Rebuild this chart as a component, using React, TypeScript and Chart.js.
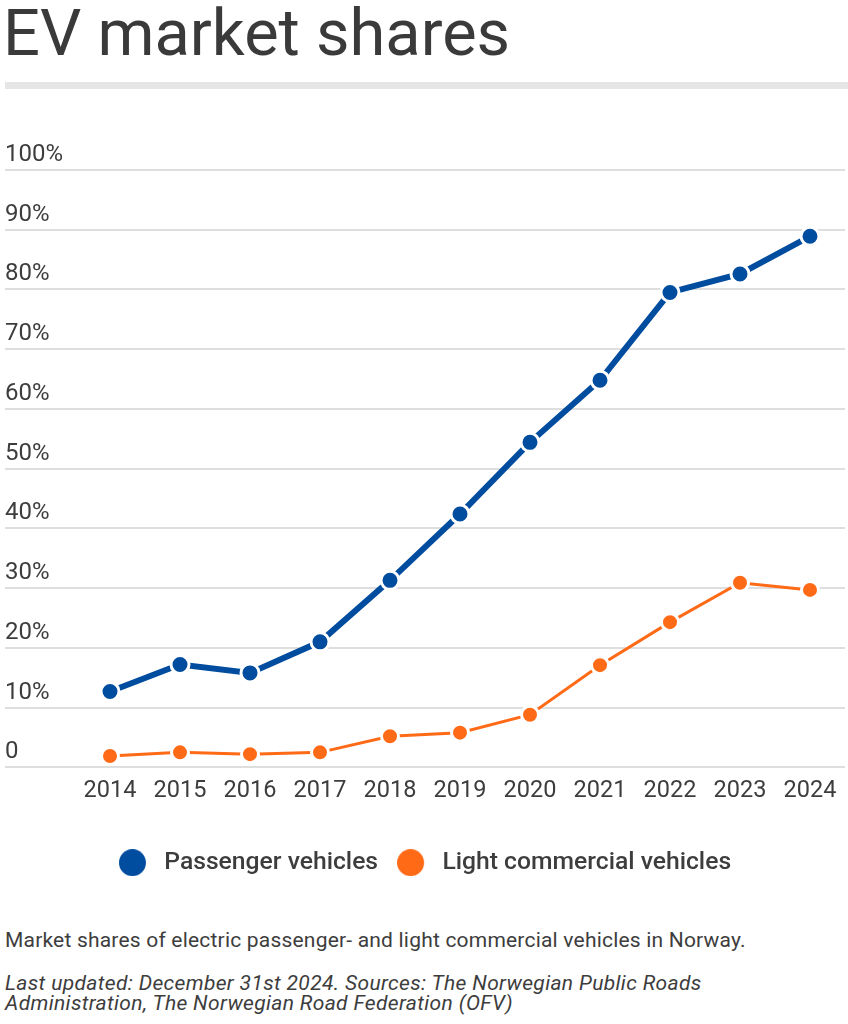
import React, { useEffect, useRef } from "react";
import { Chart, registerables } from "chart.js";

Chart.register(...registerables);

const years = ["2014", "2015", "2016", "2017", "2018", "2019", "2020", "2021", "2022", "2023", "2024"];
const passengerShares = [12.7, 17.2, 15.8, 21.0, 31.3, 42.4, 54.4, 64.8, 79.5, 82.6, 88.9];
const lightCommercialShares = [1.9, 2.5, 2.2, 2.5, 5.2, 5.8, 8.8, 17.1, 24.3, 30.9, 29.7];
const yTicks = [0, 10, 20, 30, 40, 50, 60, 70, 80, 90, 100];
const seriesNames = ["Passenger vehicles", "Light commercial vehicles"];

const BLUE = "#004c9f";
const ORANGE = "#ff6a17";
const TEXT = "#3d3d3d";
const FONT = "Roboto, 'Noto Sans', sans-serif";

function legendDot(color: string): HTMLCanvasElement {
  const c = document.createElement("canvas");
  c.width = 33;
  c.height = 27;
  const ctx = c.getContext("2d");
  if (ctx) {
    ctx.fillStyle = color;
    ctx.beginPath();
    ctx.arc(13.5, 13.5, 13.5, 0, Math.PI * 2);
    ctx.fill();
  }
  return c;
}

export default function App() {
  const canvasRef = useRef<HTMLCanvasElement | null>(null);

  useEffect(() => {
    if (!canvasRef.current) return;
    const dots = [legendDot(BLUE), legendDot(ORANGE)];
    const chart = new Chart(canvasRef.current, {
      type: "line",
      data: {
        labels: years,
        datasets: [
          {
            label: seriesNames[0],
            data: passengerShares,
            borderColor: BLUE,
            backgroundColor: BLUE,
            borderWidth: 6,
            pointRadius: 9,
            pointHoverRadius: 9,
            pointBorderWidth: 3,
            pointBorderColor: "#ffffff",
            pointBackgroundColor: BLUE,
            tension: 0,
          },
          {
            label: seriesNames[1],
            data: lightCommercialShares,
            borderColor: ORANGE,
            backgroundColor: ORANGE,
            borderWidth: 3,
            pointRadius: 8.5,
            pointHoverRadius: 8.5,
            pointBorderWidth: 3,
            pointBorderColor: "#ffffff",
            pointBackgroundColor: ORANGE,
            tension: 0,
          },
        ],
      },
      options: {
        animation: false,
        responsive: true,
        maintainAspectRatio: false,
        layout: { autoPadding: false, padding: { left: 5, right: 3, top: 70, bottom: 15 } },
        plugins: {
          legend: {
            position: "bottom",
            labels: {
              usePointStyle: true,
              boxHeight: 19,
              pointStyleWidth: 33,
              padding: 19,
              color: TEXT,
              font: { family: FONT, size: 24.7, weight: 500 },
              generateLabels: (ch: any) => {
                const items = Chart.defaults.plugins.legend.labels.generateLabels(ch);
                return items.map((it: any, i: number) => ({ ...it, pointStyle: dots[i % dots.length] }));
              },
            },
          },
          tooltip: { enabled: false },
        },
        scales: {
          x: {
            offset: true,
            afterFit: (scale: any) => {
              scale.height = 64;
              scale.paddingLeft = 0;
              scale.paddingRight = 0;
            },
            grid: { display: false, drawTicks: false },
            border: { display: false },
            ticks: {
              color: TEXT,
              padding: 10,
              font: { family: FONT, size: 23.5 },
              maxRotation: 0,
            },
          },
          y: {
            min: 0,
            max: 100,
            afterFit: (scale: any) => {
              scale.width = 70;
            },
            afterBuildTicks: (scale: any) => {
              scale.ticks = yTicks.map((v) => ({ value: v }));
            },
            grid: { color: "#dedede", lineWidth: 2, drawTicks: true, tickLength: 70 },
            border: { display: false },
            ticks: {
              crossAlign: "far",
              labelOffset: -15,
              padding: 0,
              color: TEXT,
              font: { family: FONT, size: 24 },
              callback: (v: any) => (Number(v) === 0 ? "0" : `${v}%`),
            },
          },
        },
      },
    });
    return () => chart.destroy();
  }, []);

  return (
    <div style={{ position: "absolute", left: 0, top: 0, width: 848, height: 1024, background: "#fff", fontFamily: FONT, color: TEXT }}>
      <div style={{ position: "absolute", left: 3, top: -7, fontSize: 65, fontWeight: 400, color: "#3a3a3a", whiteSpace: "nowrap", lineHeight: "80px" }}>
        EV market shares
      </div>
      <div style={{ position: "absolute", left: 5, top: 82, width: 843, height: 7, background: "#e6e6e6" }} />
      <div style={{ position: "absolute", left: 0, top: 100, width: 848, height: 800 }}>
        <canvas ref={canvasRef} />
      </div>
      <div style={{ position: "absolute", left: 5, top: 929, fontSize: 21, lineHeight: "22px", letterSpacing: "0.2px", whiteSpace: "nowrap" }}>
        Market shares of electric passenger- and light commercial vehicles in Norway.
      </div>
      <div style={{ position: "absolute", left: 5, top: 973, fontSize: 21, lineHeight: "20px", letterSpacing: "0.35px", fontStyle: "italic", whiteSpace: "nowrap" }}>
        Last updated: December 31st 2024. Sources: The Norwegian Public Roads
        <br />
        Administration, The Norwegian Road Federation (OFV)
      </div>
    </div>
  );
}
